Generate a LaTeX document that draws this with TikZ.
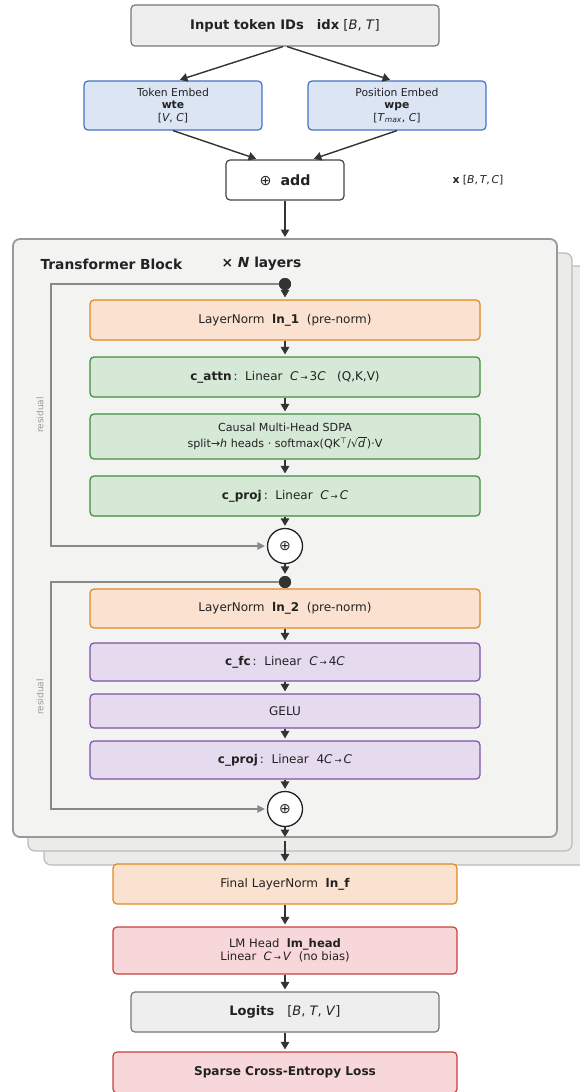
\documentclass[tikz,border=0pt]{standalone}
\usepackage{fontspec}
\setmainfont{DejaVu Sans}
\usetikzlibrary{arrows.meta}

\definecolor{ink}{HTML}{222222}
\definecolor{arr}{HTML}{333333}
\definecolor{grayfill}{HTML}{EEEEEE}
\definecolor{graydraw}{HTML}{777777}
\definecolor{bluefill}{HTML}{DCE5F4}
\definecolor{bluedraw}{HTML}{4472C4}
\definecolor{orfill}{HTML}{FBE1CF}
\definecolor{ordraw}{HTML}{E0891E}
\definecolor{grfill}{HTML}{D6E8D6}
\definecolor{grdraw}{HTML}{3E8E41}
\definecolor{pufill}{HTML}{E6DBEE}
\definecolor{pudraw}{HTML}{7E52AA}
\definecolor{rdfill}{HTML}{F8D7DA}
\definecolor{rddraw}{HTML}{C9413A}
\definecolor{blkfill}{HTML}{F3F3F2}
\definecolor{blkdraw}{HTML}{999999}
\definecolor{backfill}{HTML}{EBEBEA}
\definecolor{backdraw}{HTML}{BBBBBB}
\definecolor{resid}{HTML}{888888}

\newcommand{\bt}[1]{\textit{#1}}
\newcommand{\ra}{\,{\fontsize{8.5}{8.5}\selectfont→}\,}

\tikzset{
  box/.style={rounded corners=4pt, line width=1.2pt, text=ink, align=center,
              inner sep=2pt, font=\fontsize{12}{14}\selectfont},
  graybox/.style={box, fill=grayfill, draw=graydraw},
  bluebox/.style={box, fill=bluefill, draw=bluedraw, font=\fontsize{10.8}{12.6}\selectfont},
  orbox/.style={box, fill=orfill, draw=ordraw},
  grbox/.style={box, fill=grfill, draw=grdraw},
  pubox/.style={box, fill=pufill, draw=pudraw},
  rdbox/.style={box, fill=rdfill, draw=rddraw},
  inner/.style={minimum width=390pt},
  outer/.style={minimum width=344pt},
  flow/.style={draw=arr, line width=1.4pt, -{Triangle[length=7.5pt,width=8.5pt]}, shorten >=2pt},
  res/.style={draw=resid, line width=1.4pt, -{Triangle[length=7.5pt,width=7.5pt]}},
  sumnode/.style={circle, draw=ink, fill=white, line width=1.3pt, minimum size=35pt,
                  inner sep=0pt, font=\fontsize{14}{14}\selectfont, text=ink},
  dotnode/.style={circle, fill=arr, minimum size=12pt, inner sep=0pt},
  layer/.style={rounded corners=7pt, fill=backfill, draw=backdraw, line width=1.2pt},
  reslabel/.style={rotate=90, text=blkdraw, font=\fontsize{9}{9}\selectfont},
  title/.style={anchor=west, text=ink, font=\bfseries\fontsize{13.8}{15}\selectfont},
}

\begin{document}
\begin{tikzpicture}[x=1pt, y=-1pt]
\useasboundingbox (0,0) rectangle (579,1092);

% embedding stage
\node[graybox, minimum width=308pt, minimum height=41pt, font=\fontsize{13.1}{15}\selectfont]
  (idx) at (285,25.5) {\textbf{Input token IDs}\quad\textbf{idx} [\bt{B}, \bt{T}]};
\node[bluebox, minimum width=178pt, minimum height=49pt] (wte) at (173,105.5)
  {Token Embed\\ \textbf{wte}\\ {[}\bt{V}, \bt{C}]};
\node[bluebox, minimum width=178pt, minimum height=49pt] (wpe) at (397,105.5)
  {Position Embed\\ \textbf{wpe}\\ {[}\bt{T}\textsubscript{\bt{max}}, \bt{C}]};
\node[box, fill=white, draw=ink!85, minimum width=118pt, minimum height=40pt,
      font=\fontsize{14.2}{15}\selectfont] (add) at (285,180) {⊕\ \ \textbf{add}};
\node[text=ink, font=\fontsize{10.8}{12}\selectfont] (xshape) at (478,180)
  {\textbf{x} [\bt{B},\,\bt{T},\,\bt{C}]};

\draw[flow] ([xshift=-2pt]idx.south) -- ([xshift=5pt]wte.north);
\draw[flow] ([xshift=2pt]idx.south) -- ([xshift=-5pt]wpe.north);
\draw[flow] (wte.south) -- ([xshift=-27pt]add.north);
\draw[flow] (wpe.south) -- ([xshift=27pt]add.north);

% stacked layers of the transformer block
\draw[layer] (44,266) rectangle (592,865);
\draw[layer] (28,253) rectangle (572,851);
\draw[rounded corners=7pt, fill=blkfill, draw=blkdraw, line width=1.8pt]
  (13,239) rectangle (557,837);
\coordinate (blocktop) at (285,239);
\coordinate (blockbot) at (285,837);
\coordinate (blockout) at (285,841);
\draw[flow] (add.south) -- (blocktop);

\node[title] (btitle) at (37,264) {Transformer Block};
\node[title] (nlayers) at (218,264) {× \textit{N} layers};

% attention sub-block
\node[dotnode] (dot1) at (285,284) {};
\node[orbox, inner, minimum height=40pt] (ln1) at (285,320)
  {LayerNorm\ \ \textbf{ln\_1}\ \ (pre-norm)};
\node[grbox, inner, minimum height=40pt] (cattn) at (285,377)
  {\textbf{c\_attn}\,:\ \ Linear\ \ \bt{C}\ra3\bt{C}\ \ \ (Q,K,V)};
\node[grbox, inner, minimum height=45pt, font=\fontsize{11.1}{15.5}\selectfont] (sdpa) at (285,436.5)
  {Causal Multi-Head SDPA\\
   split→\bt{h} heads · softmax(QK\textsuperscript{⊤}/√$\overline{\hbox{\itshape d\,}}$)·V};
\node[grbox, inner, minimum height=40pt] (cproj) at (285,496)
  {\textbf{c\_proj}\,:\ \ Linear\ \ \bt{C}\ra\bt{C}};
\node[sumnode] (sum1) at (285,546) {⊕};
\coordinate (r1) at (51,284);
\node[reslabel] (rl1) at (40,415) {residual};

\draw[flow] (dot1) -- (ln1.north);
\draw[flow] (ln1) -- (cattn);
\draw[flow] (cattn) -- (sdpa);
\draw[flow] (sdpa) -- (cproj);
\draw[flow] (cproj) -- (sum1);
\draw[res] (dot1.center) -- (r1) |- ([xshift=-2pt]sum1.west);
\node[dotnode] at (dot1) {};

% MLP sub-block
\node[dotnode] (dot2) at (285,582) {};
\node[orbox, inner, minimum height=39pt] (ln2) at (285,608.5)
  {LayerNorm\ \ \textbf{ln\_2}\ \ (pre-norm)};
\node[pubox, inner, minimum height=38pt] (cfc) at (285,662)
  {\textbf{c\_fc}\,:\ \ Linear\ \ \bt{C}\ra4\bt{C}};
\node[pubox, inner, minimum height=34pt] (gelu) at (285,711) {GELU};
\node[pubox, inner, minimum height=38pt] (cproj2) at (285,760)
  {\textbf{c\_proj}\,:\ \ Linear\ \ 4\bt{C}\ra\bt{C}};
\node[sumnode] (sum2) at (285,809) {⊕};
\coordinate (r2) at (51,582);
\node[reslabel] (rl2) at (40,697) {residual};

\draw[flow] (sum1) -- (dot2);
\draw[flow] (dot2) -- (ln2.north);
\draw[flow] (ln2) -- (cfc);
\draw[flow] (cfc) -- (gelu);
\draw[flow] (gelu) -- (cproj2);
\draw[flow] (cproj2) -- (sum2);
\draw[res] (dot2.center) -- (r2) |- ([xshift=-2pt]sum2.west);
\node[dotnode] at (dot2) {};
\draw[flow, shorten >=0pt] (sum2) -- (blockbot);

% output head
\node[orbox, outer, minimum height=40pt] (lnf) at (285,884)
  {Final LayerNorm\ \ \textbf{ln\_f}};
\node[rdbox, outer, minimum height=47pt, font=\fontsize{11.6}{13.5}\selectfont] (lmhead) at (285,950.5)
  {LM Head\ \ \textbf{lm\_head}\\ Linear\ \ \bt{C}\ra\bt{V}\ \ (no bias)};
\node[graybox, minimum width=308pt, minimum height=40pt, font=\fontsize{13}{15}\selectfont]
  (logits) at (285,1012) {\textbf{Logits}\quad[\bt{B}, \bt{T}, \bt{V}]};
\node[rdbox, outer, minimum height=41pt, font=\bfseries\fontsize{12.1}{14}\selectfont]
  (loss) at (285,1072.5) {Sparse Cross-Entropy Loss};

\draw[flow] (blockout) -- (lnf.north);
\draw[flow] (lnf) -- (lmhead);
\draw[flow] (lmhead) -- (logits);
\draw[flow] (logits) -- (loss);
\end{tikzpicture}
\end{document}
